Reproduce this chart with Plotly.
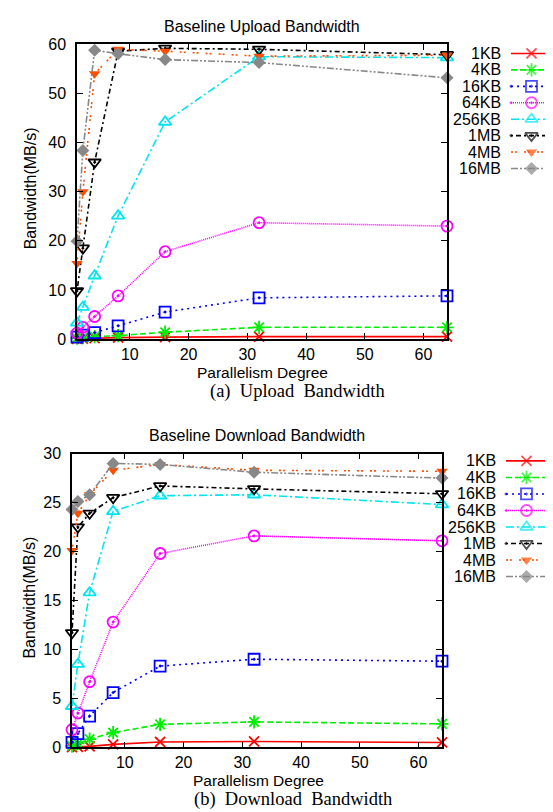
import plotly.graph_objects as go

W, H = 553, 812

parallelism = [1, 2, 4, 8, 16, 32, 64]
sizes = ["1KB", "4KB", "16KB", "64KB", "256KB", "1MB", "4MB", "16MB"]

upload_1KB = [0.05, 0.1, 0.2, 0.3, 0.4, 0.5, 0.5]
upload_4KB = [0.2, 0.3, 0.5, 0.7, 1.4, 2.4, 2.4]
upload_16KB = [0.4, 0.8, 1.3, 2.7, 5.5, 8.4, 8.8]
upload_64KB = [1.2, 2.4, 4.6, 8.8, 17.8, 23.7, 23.0]
upload_256KB = [3.3, 6.5, 12.9, 25.1, 44.2, 57.5, 57.3]
upload_1MB = [9.8, 18.5, 36.0, 58.6, 59.2, 59.0, 57.9]
upload_4MB = [15.4, 30.0, 54.0, 59.0, 58.6, 57.6, 57.8]
upload_16MB = [19.9, 38.4, 58.8, 58.1, 56.9, 56.3, 53.2]

download_1KB = [0.02, 0.05, 0.1, 0.3, 0.55, 0.6, 0.5]
download_4KB = [0.15, 0.4, 0.85, 1.5, 2.35, 2.6, 2.4]
download_16KB = [0.5, 1.4, 3.2, 5.6, 8.3, 9.0, 8.8]
download_64KB = [1.8, 3.5, 6.7, 12.8, 19.8, 21.6, 21.1]
download_256KB = [4.2, 8.5, 15.8, 24.1, 25.7, 25.8, 24.8]
download_1MB = [11.7, 22.5, 23.9, 25.5, 26.7, 26.4, 25.9]
download_4MB = [20.1, 23.9, 25.8, 28.3, 28.9, 28.3, 28.2]
download_16MB = [24.3, 25.1, 25.8, 29.0, 28.9, 28.1, 27.5]

upload = [upload_1KB, upload_4KB, upload_16KB, upload_64KB,
          upload_256KB, upload_1MB, upload_4MB, upload_16MB]
download = [download_1KB, download_4KB, download_16KB, download_64KB,
            download_256KB, download_1MB, download_4MB, download_16MB]

styles = [
    dict(color="#ff0000", dash="solid", symbol="x-thin-open", size=10, fill=False),
    dict(color="#00ee00", dash="6px,3px", symbol="asterisk-open", size=11, fill=False),
    dict(color="#0000ff", dash="2px,4px", symbol="square-open-dot", size=11, fill=False),
    dict(color="#ff00ff", dash="1px,1px", symbol="circle-open-dot", size=11, fill=False),
    dict(color="#00e5ee", dash="8px,3px,2px,3px", symbol="triangle-up-open", size=11, fill=False),
    dict(color="#000000", dash="2px,3px,5px,3px", symbol="triangle-down-open-dot", size=11, fill=False),
    dict(color="#ff4d00", dash="2px,2px,2px,7px", symbol="triangle-down", size=10, fill=True),
    dict(color="#888888", dash="7px,2px,2px,2px,2px,2px", symbol="diamond", size=10, fill=True),
]

FONT = "Liberation Sans, Arial, sans-serif"
SERIF = "Liberation Serif, Times New Roman, serif"

fig = go.Figure()

def add_series(data, xa, ya):
    for name, vals, st in zip(sizes, data, styles):
        fig.add_trace(go.Scatter(
            x=parallelism, y=vals, mode="lines+markers", name=name,
            xaxis=xa, yaxis=ya, cliponaxis=False, showlegend=False,
            line=dict(color=st["color"], dash=st["dash"], width=1.6),
            marker=dict(symbol=st["symbol"], size=st["size"], color=st["color"],
                        line=dict(color=st["color"], width=1.8 if not st["fill"] else 0)),
        ))

add_series(upload, "x", "y")
add_series(download, "x2", "y2")

# custom gnuplot-style legends (label on left, sample on right)
rows = list(range(len(sizes)))
def add_legend(xa, ya):
    for i, (name, st) in enumerate(zip(sizes, styles)):
        fig.add_trace(go.Scatter(
            x=[0, 0.5, 1], y=[rows[i]] * 3, mode="lines+markers",
            xaxis=xa, yaxis=ya, cliponaxis=False, showlegend=False, hoverinfo="skip",
            line=dict(color=st["color"], dash=st["dash"], width=1.6),
            marker=dict(symbol=st["symbol"], size=[0, st["size"], 0], color=st["color"],
                        line=dict(color=st["color"], width=1.8 if not st["fill"] else 0)),
        ))

add_legend("x3", "y3")
add_legend("x4", "y4")

def px_x(p):
    return p / W

def px_y(p):
    return 1 - p / H

ax_common = dict(showline=True, linecolor="black", linewidth=1.5, mirror="ticks",
                 ticks="inside", ticklen=6, tickwidth=1.2, tickcolor="black",
                 showgrid=False, zeroline=False,
                 tickfont=dict(family=FONT, size=16, color="black"))

fig.update_layout(
    width=W, height=H, margin=dict(l=0, r=0, t=0, b=0),
    paper_bgcolor="white", plot_bgcolor="white", showlegend=False,
    xaxis=dict(domain=[px_x(69), px_x(439)], range=[1, 64], tick0=0, dtick=10,
               anchor="y", **ax_common),
    yaxis=dict(domain=[px_y(330), px_y(29)], range=[0, 60], dtick=10,
               anchor="x", ticklabelstandoff=6, **ax_common),
    xaxis2=dict(domain=[px_x(64), px_x(434)], range=[1, 64], tick0=0, dtick=10,
                anchor="y2", **ax_common),
    yaxis2=dict(domain=[px_y(747), px_y(447)], range=[0, 30], dtick=5,
                anchor="x2", ticklabelstandoff=6, **ax_common),
    xaxis3=dict(domain=[px_x(503), px_x(544)], range=[0, 1], visible=False, anchor="y3"),
    yaxis3=dict(domain=[px_y(164.1), px_y(29.9)], range=[7.5, -0.5], visible=False, anchor="x3"),
    xaxis4=dict(domain=[px_x(498), px_x(539)], range=[0, 1], visible=False, anchor="y4"),
    yaxis4=dict(domain=[px_y(581), px_y(446)], range=[7.5, -0.5], visible=False, anchor="x4"),
)

ann = []
for i, name in enumerate(sizes):
    ann.append(dict(text=name, x=px_x(494), xref="paper", xanchor="right",
                    y=rows[i], yref="y3", yanchor="middle", showarrow=False,
                    borderpad=0, height=15, valign="middle",
                    font=dict(family=FONT, size=16, color="black")))
    ann.append(dict(text=name, x=px_x(489), xref="paper", xanchor="right",
                    y=rows[i], yref="y4", yanchor="middle", showarrow=False,
                    borderpad=0, height=15, valign="middle",
                    font=dict(family=FONT, size=16, color="black")))

def text_at(t, cx, cy, size, family=FONT, angle=0, h=None):
    d = dict(text=t, x=px_x(cx), y=px_y(cy), xref="paper", yref="paper",
             xanchor="center", yanchor="middle", showarrow=False, textangle=angle,
             borderpad=0, font=dict(family=family, size=size, color="black"))
    if h:
        d["height"] = h
    ann.append(d)

text_at("Baseline Upload Bandwidth", 254, 11, 16)
text_at("Baseline Download Bandwidth", 249, 428, 16)
text_at("Parallelism Degree", 254, 364, 15.5, h=17)
text_at("Parallelism Degree", 250, 781, 15.5, h=17)
text_at("(a)  Upload  Bandwidth", 289, 384, 18.5, SERIF, h=21)
text_at("(b)  Download  Bandwidth", 285, 800, 18.5, SERIF, h=21)
text_at("Bandwidth(MB/s)", 22, 176, 16, FONT, -90)
text_at("Bandwidth(MB/s)", 22, 594, 16, FONT, -90)

fig.update_layout(annotations=ann)

fig.write_html("out.html")
